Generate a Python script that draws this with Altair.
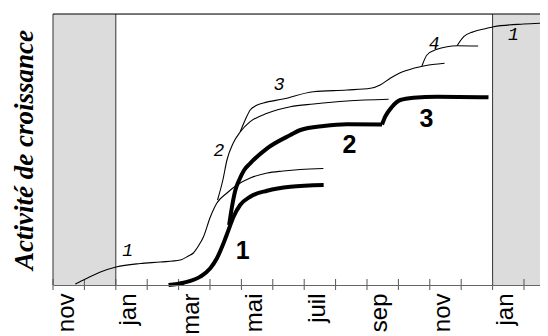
import json
import altair as alt
import pandas as pd

# ---- x axis (months, uniform spacing, index 0 = nov) ----
month_ticks = list(range(0, 16))
label_values = [0, 2, 4, 6, 8, 10, 12, 14]
label_names = ["nov", "jan", "mar", "mai", "juil", "sep", "nov", "jan"]
x_max = 15.51
dividers = [0, 2, 14]
rest_start = [0, 14]
rest_end = [2, 15.51]

# ---- thin curves (month, activity) ----
thin1_m = [0.71, 1.03, 1.51, 2.01, 2.78, 3.42, 4.05, 4.31, 4.47, 4.63, 4.79, 5.01, 5.22, 5.54, 5.86, 6.28, 6.82, 7.33, 7.88, 8.61]
thin1_v = [1, 6, 13, 18, 21.5, 23, 25, 29, 32, 39, 48, 68, 82, 92, 100, 107, 112, 114, 115.5, 116.5]
thin2_m = [5.24, 5.41, 5.54, 5.74, 5.96, 6.28, 6.82, 7.56, 8.30, 9.36, 10.69]
thin2_v = [85, 105, 125, 142, 153, 163.3, 171.7, 178.3, 181, 184, 185.7]
thin3_m = [5.96, 6.12, 6.28, 6.47, 6.70, 7.33, 8.29, 9.36, 10.11, 10.42, 10.74, 11.06, 11.48, 11.80, 12.47]
thin3_v = [153, 165, 175, 179.5, 182, 186, 193.3, 195, 196.7, 200, 206.7, 212.3, 216.7, 219, 221.7]
thin4_m = [11.75, 11.91, 12.23, 12.55, 12.87, 13.54]
thin4_v = [219, 230, 235.7, 238.3, 239.3, 239]
thin5_m = [12.87, 13.08, 13.39, 13.82, 14.03, 14.99, 15.51]
thin5_v = [239.3, 248.3, 253.3, 256.7, 258.3, 261, 261.8]

# ---- thick curves ----
thick1_m = [3.68, 4.16, 4.69, 5.01, 5.22, 5.43, 5.59, 5.75, 5.96, 6.28, 6.82, 7.56, 8.62]
thick1_v = [0, 2.3, 8.3, 16.7, 26.7, 41.7, 55, 68.3, 80, 88.3, 94.3, 98.3, 100]
thick2_m = [5.61, 5.71, 5.81, 5.93, 6.09, 6.28, 6.82, 7.56, 7.88, 8.62, 9.36, 10.48]
thick2_v = [60, 80, 95, 105, 115, 121.7, 136.7, 150, 155, 159, 160.7, 160.5]
thick3_m = [10.48, 10.58, 10.80, 11.06, 11.48, 12.23, 13.87]
thick3_v = [160.5, 168.3, 178.3, 185, 187.3, 188.3, 187.7]

# ---- labels ----
thin_lab_text = ["1", "2", "3", "4", "1"]
thin_lab_m = [2.38, 5.28, 7.20, 12.14, 14.66]
thin_lab_v = [34.5, 134.5, 200.5, 241, 250.5]
bold_lab_text = ["1", "2", "3"]
bold_lab_m = [6.04, 9.44, 11.89]
bold_lab_v = [34, 140, 166]

W, H = 487, 271


def frame(pairs):
    rows = []
    for name, ms, vs in pairs:
        for m, v in zip(ms, vs):
            rows.append({"series": name, "m": m, "v": v})
    return pd.DataFrame(rows)


thin_df = frame([("t1", thin1_m, thin1_v), ("t2", thin2_m, thin2_v), ("t3", thin3_m, thin3_v),
                 ("t4", thin4_m, thin4_v), ("t5", thin5_m, thin5_v)])
thick_df = frame([("k1", thick1_m, thick1_v), ("k2", thick2_m, thick2_v), ("k3", thick3_m, thick3_v)])

xs = alt.Scale(domain=[0, x_max], nice=False, zero=False)
ys = alt.Scale(domain=[0, H], nice=False)

label_expr = json.dumps(label_names) + "[round(datum.value/2)]"

x_axis = alt.Axis(values=label_values, labelExpr=label_expr, labelAngle=270, labelAlign="right",
                  labelBaseline="middle", labelOffset=13, labelPadding=8, labelFontSize=24,
                  labelFont="Liberation Sans", labelColor="black", ticks=False, tickSize=0,
                  domain=True, domainColor="#666666", domainWidth=1, grid=False, title=None, zindex=1)
y_axis = alt.Axis(labels=False, ticks=False, domain=False, grid=False, title="Activité de croissance",
                  titleFont="Liberation Serif", titleFontSize=27, titleFontWeight="bold",
                  titleFontStyle="italic", titleColor="black", titlePadding=15)

rest_df = pd.DataFrame({"a": rest_start, "b": rest_end})
rest = alt.Chart(rest_df).mark_rect(color="#dcdcdc").encode(
    x=alt.X("a:Q", scale=xs, axis=x_axis), x2="b:Q")

div = alt.Chart(pd.DataFrame({"m": dividers})).mark_rule(color="#333333", strokeWidth=1).encode(
    x=alt.X("m:Q", scale=xs))

top = alt.Chart(pd.DataFrame({"m": [0]})).mark_rule(color="black", strokeWidth=1).encode(
    x=alt.value(0), x2=alt.value(W), y=alt.value(0))

ticks = alt.Chart(pd.DataFrame({"m": month_ticks})).mark_rule(color="#555555", strokeWidth=1).encode(
    x=alt.X("m:Q", scale=xs), y=alt.value(H - 6), y2=alt.value(H + 5))

thin = alt.Chart(thin_df).mark_line(color="black", strokeWidth=1.1, interpolate="monotone").encode(
    x=alt.X("m:Q", scale=xs), y=alt.Y("v:Q", scale=ys, axis=y_axis), detail="series:N")

thick = alt.Chart(thick_df).mark_line(color="black", strokeWidth=4, interpolate="monotone").encode(
    x=alt.X("m:Q", scale=xs), y=alt.Y("v:Q", scale=ys), detail="series:N")

thin_lab = alt.Chart(pd.DataFrame({"t": thin_lab_text, "m": thin_lab_m, "v": thin_lab_v})).mark_text(
    font="Liberation Mono", fontSize=18, fontStyle="italic", color="black", align="center",
    baseline="middle").encode(x=alt.X("m:Q", scale=xs), y=alt.Y("v:Q", scale=ys), text="t:N")

bold_lab = alt.Chart(pd.DataFrame({"t": bold_lab_text, "m": bold_lab_m, "v": bold_lab_v})).mark_text(
    font="Liberation Sans", fontSize=25, fontWeight="bold", color="black", align="center",
    baseline="middle").encode(x=alt.X("m:Q", scale=xs), y=alt.Y("v:Q", scale=ys), text="t:N")

chart = alt.layer(rest, div, top, ticks, thin, thick, thin_lab, bold_lab).properties(
    width=W, height=H,
    autosize=alt.AutoSizeParams(type="none"),
    padding={"left": 45, "top": 6, "right": 0, "bottom": 51},
).configure_view(stroke="transparent").configure(background="white")

chart.save("out.html", embed_options={"renderer": "svg", "actions": False})
